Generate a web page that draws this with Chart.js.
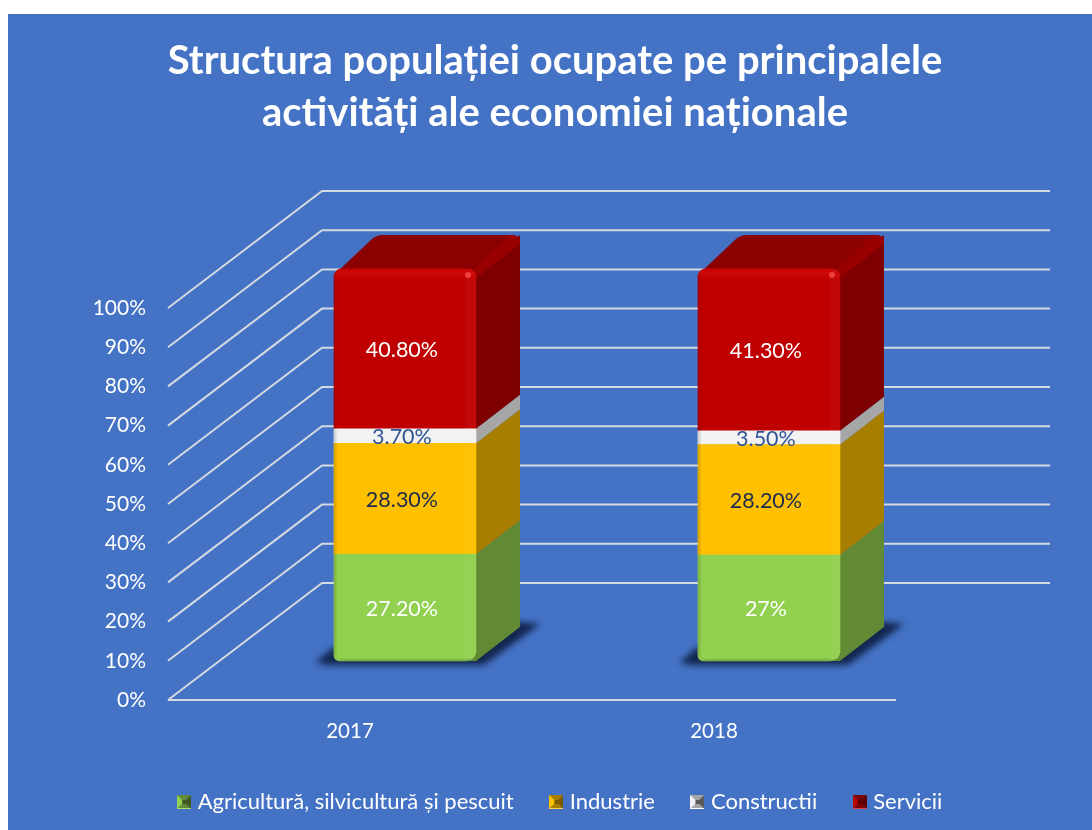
<!DOCTYPE html>
<html lang="ro">
<head>
<meta charset="utf-8">
<style>
html,body{margin:0;padding:0;background:#fff}
#wrap{width:1092px;height:830px;position:relative}
canvas{display:block}
</style>
<script src="https://cdn.jsdelivr.net/npm/chart.js@4"></script>
</head>
<body>
<div id="wrap"><canvas id="c" width="1092" height="830"></canvas></div>
<script>
const years = [2017, 2018];
const seriesNames = ['Agricultură, silvicultură și pescuit', 'Industrie', 'Constructii', 'Servicii'];
const agricultura = [27.2, 27];
const industrie = [28.3, 28.2];
const constructii = [3.7, 3.5];
const servicii = [40.8, 41.3];
const titleLines = ['Structura populației ocupate pe principalele', 'activități ale economiei naționale'];

const FONT = 'Lato, Carlito, sans-serif';
const front = ['#92D050', '#FFC000', '#F2F2F2', '#C00000'];
const side = ['#628A34', '#A87E00', '#A6A6A6', '#7F0000'];
const labelInk = ['#FFFFFF', '#1B2A4E', '#2F5597', '#FFFFFF'];
const legendLight = ['#A6DC6E', '#FFD24D', '#FFFFFF', '#D9404A'];
const legendDark = ['#3F5A20', '#7A5B00', '#595959', '#5E0000'];
const GRID = { dx: 154, dy: 117, color: '#D4D9E2', width: 2 };
const BAR = { dx: 44, dy: 34 };

function toSeries(v) { return v.map((y, i) => ({ x: years[i], y })); }
function pct(v) { return (Number.isInteger(v) ? String(v) : v.toFixed(2)) + '%'; }

function swatch(i) {
  const s = 14, c = document.createElement('canvas');
  c.width = s; c.height = s;
  const g = c.getContext('2d'), m = s / 2;
  const tri = (a, b, d, e, col) => { g.fillStyle = col; g.beginPath(); g.moveTo(a, b); g.lineTo(d, e); g.lineTo(m, m); g.closePath(); g.fill(); };
  tri(0, 0, s, 0, side[i]);
  tri(0, 0, 0, s, front[i]);
  tri(s, 0, s, s, legendDark[i]);
  tri(0, s, s, s, side[i]);
  g.fillStyle = legendLight[i];
  g.fillRect(0, s - 1, s, 1);
  g.fillStyle = legendDark[i];
  g.fillRect(5, 5, s - 10, s - 10);
  return c;
}

const panelPlugin = {
  id: 'panel',
  beforeDraw(chart) {
    const g = chart.ctx;
    g.save();
    g.fillStyle = '#FFFFFF'; g.fillRect(0, 0, chart.width, chart.height);
    g.fillStyle = '#4472C4'; g.fillRect(8, 14, chart.width - 8, chart.height - 14);
    g.restore();
  },
  afterLayout(chart) { chart.legend.left += 7; chart.legend.right += 7; }
};

const wallPlugin = {
  id: 'wall',
  beforeDatasetsDraw(chart) {
    const g = chart.ctx, y = chart.scales.y, a = chart.chartArea;
    g.save();
    g.strokeStyle = GRID.color; g.lineWidth = GRID.width; g.lineJoin = 'miter';
    y.ticks.forEach(t => {
      const py = y.getPixelForValue(t.value);
      g.beginPath();
      g.moveTo(a.left, py);
      g.lineTo(a.left + GRID.dx, py - GRID.dy);
      g.lineTo(a.right + GRID.dx, py - GRID.dy);
      g.stroke();
    });
    g.beginPath();
    g.moveTo(a.left, y.getPixelForValue(0));
    g.lineTo(a.right, y.getPixelForValue(0));
    g.stroke();
    g.restore();

    const n = chart.data.datasets.length;
    years.forEach((_, k) => {
      const first = chart.getDatasetMeta(0).data[k];
      const last = chart.getDatasetMeta(n - 1).data[k];
      const L = first.x - first.width / 2, R = first.x + first.width / 2, B = first.base, T = last.y;
      // floor shadow
      g.save();
      g.filter = 'blur(3px)';
      g.fillStyle = '#13264F';
      g.beginPath();
      g.moveTo(L - 18, B + 1);
      g.lineTo(L, B - 14);
      g.lineTo(R + BAR.dx, B - BAR.dy - 5);
      g.lineTo(R + BAR.dx + 20, B - BAR.dy - 3);
      g.lineTo(R + 8, B + 4);
      g.lineTo(L - 8, B + 4);
      g.closePath();
      g.fill();
      g.restore();
      // right faces
      g.save();
      chart.data.datasets.forEach((ds, d) => {
        const el = chart.getDatasetMeta(d).data[k];
        g.fillStyle = side[d];
        g.beginPath();
        g.moveTo(R - 8, el.y);
        g.lineTo(R, el.y);
        g.lineTo(R + BAR.dx, el.y - BAR.dy);
        g.lineTo(R + BAR.dx, el.base - BAR.dy);
        g.lineTo(R, el.base);
        g.lineTo(R - 8, el.base);
        g.closePath();
        g.fill();
      });
      // top face with soft corners
      g.fillStyle = '#8B0000';
      g.beginPath();
      g.moveTo(L + 2, T + 4);
      g.lineTo(L + BAR.dx - 6, T - BAR.dy + 4);
      g.quadraticCurveTo(L + BAR.dx - 1, T - BAR.dy, L + BAR.dx + 5, T - BAR.dy);
      g.lineTo(R + BAR.dx - 8, T - BAR.dy);
      g.quadraticCurveTo(R + BAR.dx, T - BAR.dy, R + BAR.dx, T - BAR.dy + 8);
      g.lineTo(R + BAR.dx, T - BAR.dy + 14);
      g.lineTo(R, T + 12);
      g.lineTo(L + 2, T + 12);
      g.closePath();
      g.fill();
      // side below the rounded edge
      g.fillStyle = '#7F0000';
      g.beginPath();
      g.moveTo(R, T + 6);
      g.lineTo(R + BAR.dx, T - BAR.dy + 8);
      g.lineTo(R + BAR.dx, T - BAR.dy + 20);
      g.lineTo(R, T + 20);
      g.closePath();
      g.fill();
      // bevel between top and side
      g.fillStyle = '#990000';
      g.beginPath();
      g.moveTo(R - 2, T);
      g.lineTo(R + BAR.dx - 10, T - BAR.dy);
      g.quadraticCurveTo(R + BAR.dx, T - BAR.dy, R + BAR.dx, T - BAR.dy + 8);
      g.lineTo(R + BAR.dx, T - BAR.dy + 9);
      g.lineTo(R, T + 9);
      g.closePath();
      g.fill();
      g.restore();
    });
  },
  afterDatasetsDraw(chart) {
    const g = chart.ctx, n = chart.data.datasets.length;
    years.forEach((_, k) => {
      const first = chart.getDatasetMeta(0).data[k];
      const last = chart.getDatasetMeta(n - 1).data[k];
      const L = first.x - first.width / 2, W = first.width, B = first.base, T = last.y, R = L + W;
      g.save();
      g.beginPath();
      g.roundRect(L, T, W, B - T, [8, 8, 8, 8]);
      g.clip();
      let gr = g.createLinearGradient(L, 0, L + 4, 0);
      gr.addColorStop(0, 'rgba(0,0,0,0.16)'); gr.addColorStop(1, 'rgba(0,0,0,0)');
      g.fillStyle = gr; g.fillRect(L, T, 4, B - T);
      gr = g.createLinearGradient(R - 12, 0, R, 0);
      gr.addColorStop(0, 'rgba(255,255,255,0.0)'); gr.addColorStop(0.3, 'rgba(255,255,255,0.03)');
      gr.addColorStop(1, 'rgba(255,255,255,0.03)');
      g.fillStyle = gr; g.fillRect(R - 12, T, 12, B - T);
      gr = g.createLinearGradient(0, T, 0, T + 11);
      gr.addColorStop(0, 'rgba(255,0,0,0.12)'); gr.addColorStop(0.4, 'rgba(255,40,40,0.24)'); gr.addColorStop(1, 'rgba(255,0,0,0)');
      g.fillStyle = gr; g.fillRect(L, T, W, 11);
      gr = g.createLinearGradient(0, B - 3, 0, B);
      gr.addColorStop(0, 'rgba(0,0,0,0)'); gr.addColorStop(1, 'rgba(0,0,0,0.2)');
      g.fillStyle = gr; g.fillRect(L, B - 3, W, 3);
      g.fillStyle = 'rgba(255,90,90,0.65)';
      g.beginPath(); g.arc(R - 8, T + 6, 3, 0, Math.PI * 2); g.fill();
      g.restore();
    });
    // value labels
    g.save();
    g.font = '21.5px ' + FONT;
    g.textAlign = 'center';
    g.textBaseline = 'middle';
    chart.data.datasets.forEach((ds, d) => {
      chart.getDatasetMeta(d).data.forEach((el, k) => {
        g.fillStyle = labelInk[d];
        g.fillText(pct(ds.data[k].y), el.x - 3, (el.y + el.base) / 2 + 1);
      });
    });
    g.restore();
  }
};

new Chart(document.getElementById('c'), {
  type: 'bar',
  data: {
    labels: years.map(String),
    datasets: [agricultura, industrie, constructii, servicii].map((vals, i) => ({
      label: seriesNames[i],
      data: toSeries(vals),
      backgroundColor: front[i],
      borderSkipped: false,
      borderRadius: i === 0 ? { bottomLeft: 6, bottomRight: 10 } : i === 3 ? { topLeft: 8, topRight: 8 } : 0,
      barThickness: 142,
      xAxisID: 'xBars',
      yAxisID: 'yBars',
      clip: false
    }))
  },
  options: {
    responsive: false,
    animation: false,
    layout: { padding: { left: 18, right: 0, top: 14, bottom: 7 } },
    plugins: {
      title: {
        display: true,
        text: titleLines,
        color: '#FFFFFF',
        font: { family: FONT, size: 40, weight: 'bold', lineHeight: 1.3 },
        padding: { top: 21, bottom: 169 }
      },
      legend: {
        position: 'bottom',
        labels: {
          usePointStyle: true,
          boxWidth: 5,
          color: '#FFFFFF',
          padding: 40,
          font: { family: FONT, size: 22 },
          generateLabels(chart) {
            return chart.data.datasets.map((ds, i) => ({
              text: ds.label, pointStyle: swatch(i), fontColor: '#FFFFFF', datasetIndex: i,
              lineWidth: 0, strokeStyle: 'transparent', fillStyle: front[i]
            }));
          }
        }
      },
      tooltip: { enabled: false }
    },
    scales: {
      x: {
        type: 'category',
        offset: true,
        grid: { display: false },
        border: { display: false },
        ticks: { color: '#FFFFFF', padding: 11, font: { family: FONT, size: 20.5 } },
        afterFit(s) { s.height = 51; }
      },
      y: {
        position: 'left',
        min: 0, max: 100,
        grid: { display: false, drawTicks: false },
        border: { display: false },
        ticks: { stepSize: 10, color: '#FFFFFF', padding: 22, font: { family: FONT, size: 21 }, callback: v => v + '%' },
        afterFit(s) { s.width = 150; }
      },
      xBars: {
        type: 'linear',
        display: false,
        offset: false,
        stacked: true,
        min: 2016.349,
        max: 2018.349,
        grid: { display: false, offset: false }
      },
      yBars: {
        position: 'right',
        display: true,
        stacked: true,
        min: -9.97,
        max: 90.03,
        grid: { display: false },
        border: { display: false },
        ticks: { display: false },
        afterFit(s) { s.width = 196; }
      }
    }
  },
  plugins: [panelPlugin, wallPlugin]
});
</script>
</body>
</html>
